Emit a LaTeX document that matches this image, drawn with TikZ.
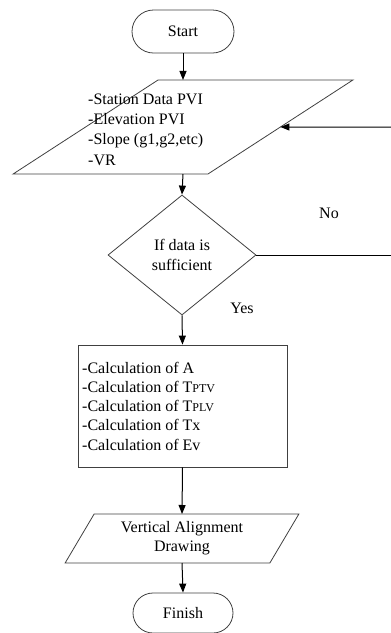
\documentclass[tikz,border=0pt]{standalone}
\usepackage{fontspec}
\setmainfont{Liberation Serif}
\usetikzlibrary{shapes.geometric,shapes.misc,arrows.meta}
\begin{document}
\begin{tikzpicture}[x=1pt,y=-1pt,
  font=\fontsize{16}{19.2}\selectfont,
  shapeline/.style={draw=black!75,line width=0.8pt},
  term/.style={shapeline,rounded rectangle,minimum width=102pt,minimum height=43pt,inner sep=0pt},
  io/.style={shapeline,trapezium,trapezium stretches=true,inner sep=2pt,outer sep=0pt,align=center},
  decision/.style={shapeline,diamond,minimum width=148pt,minimum height=120pt,inner sep=0pt,align=center},
  procbox/.style={shapeline,rectangle,minimum width=209pt,minimum height=122pt,inner sep=0pt},
  txt/.style={inner sep=0pt,align=left},
  flow/.style={draw=black,line width=1pt,-{Triangle[length=9pt,width=7pt]}},
  plain/.style={draw=black,line width=1pt},
]
\useasboundingbox (0,0) rectangle (391,633);

\node[term] (start) at (183,31.5) {Start};
\node[io,minimum width=340pt,minimum height=94pt,trapezium left angle=63.4,trapezium right angle=116.6] (in) at (183,127) {\strut};
\node[txt,anchor=base west,font=\fontsize{16}{20.3}\selectfont] (intext) at (88,165) {-Station Data PVI\\-Elevation PVI\\-Slope (g1,g2,etc)\\-VR};
\node[decision] (dec) at (182,255) {If data is\\sufficient};
\node[procbox] (calc) at (182.5,406) {};
\node[txt,anchor=base west] (calctext) at (82,450) {-Calculation of A\\-Calculation of T{\fontsize{12}{12}\selectfont PTV}\\-Calculation of T{\fontsize{12}{12}\selectfont PLV}\\-Calculation of Tx\\-Calculation of Ev};
\node[io,minimum width=234pt,minimum height=49pt,trapezium left angle=61.1,trapezium right angle=118.9] (out) at (182,538.5) {Vertical Alignment\\Drawing};
\node[term,minimum width=100pt,minimum height=40pt] (fin) at (183,613) {Finish};

\node[anchor=base,inner sep=0pt] (no) at (329,218) {No};
\node[anchor=base,inner sep=0pt] (yes) at (242,313) {Yes};

\coordinate (noend) at (391,255);
\coordinate (nostart) at (391,127);

\draw[flow] (start.south) -- (in.north);
\draw[flow] (in.south) -- (dec.north);
\draw[flow] (dec.south) -- (calc.north);
\draw[flow] (calc.south) -- (out.north);
\draw[flow] (out.south) -- (fin.north);
\draw[plain] (dec.east) -- (noend);
\draw[flow] (nostart) -- (in.east);
\end{tikzpicture}
\end{document}
